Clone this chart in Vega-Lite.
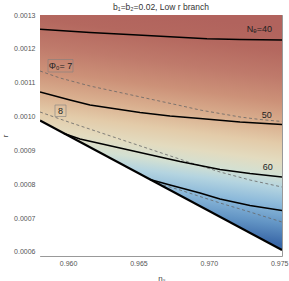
{
  "$schema": "https://vega.github.io/schema/vega-lite/v6.json",
  "width": 242,
  "height": 241,
  "autosize": {"type": "none"},
  "padding": {"left": 40, "top": 15, "right": 7, "bottom": 25},
  "title": {"text": "b₁=b₂=0.02, Low r branch", "fontSize": 8.5, "font": "Liberation Sans", "fontWeight": "normal", "color": "#333333", "offset": 0, "anchor": "middle"},
  "config": {"view": {"stroke": null}, "font": "Liberation Sans"},
  "datasets": {
    "field": [{"ns0": 0.958, "ns1": 0.9752, "r0": 0.000588, "r1": 0.0013}],
    "boundary": [
      {"ns": 0.958, "r": 0.0009883},
      {"ns": 0.9752, "r": 0.0006055}
    ],
    "contours": [
      {"series": "N40", "kind": "solid", "ns": 0.958, "r": 0.0012578},
      {"series": "N40", "kind": "solid", "ns": 0.961553, "r": 0.0012483},
      {"series": "N40", "kind": "solid", "ns": 0.96461, "r": 0.0012418},
      {"series": "N40", "kind": "solid", "ns": 0.967239, "r": 0.0012359},
      {"series": "N40", "kind": "solid", "ns": 0.969868, "r": 0.00123},
      {"series": "N40", "kind": "solid", "ns": 0.972214, "r": 0.0012276},
      {"series": "N40", "kind": "solid", "ns": 0.9752, "r": 0.0012261},
      {"series": "N50", "kind": "solid", "ns": 0.958, "r": 0.0010725},
      {"series": "N50", "kind": "solid", "ns": 0.960132, "r": 0.0010489},
      {"series": "N50", "kind": "solid", "ns": 0.961553, "r": 0.0010341},
      {"series": "N50", "kind": "solid", "ns": 0.963686, "r": 0.0010208},
      {"series": "N50", "kind": "solid", "ns": 0.965107, "r": 0.0010119},
      {"series": "N50", "kind": "solid", "ns": 0.967239, "r": 0.0010016},
      {"series": "N50", "kind": "solid", "ns": 0.969371, "r": 0.0009942},
      {"series": "N50", "kind": "solid", "ns": 0.972214, "r": 0.0009839},
      {"series": "N50", "kind": "solid", "ns": 0.9752, "r": 0.0009765},
      {"series": "N60", "kind": "solid", "ns": 0.9597, "r": 0.00095},
      {"series": "N60", "kind": "solid", "ns": 0.960843, "r": 0.0009337},
      {"series": "N60", "kind": "solid", "ns": 0.962264, "r": 0.0009204},
      {"series": "N60", "kind": "solid", "ns": 0.963686, "r": 0.0009071},
      {"series": "N60", "kind": "solid", "ns": 0.965107, "r": 0.0008938},
      {"series": "N60", "kind": "solid", "ns": 0.966528, "r": 0.0008805},
      {"series": "N60", "kind": "solid", "ns": 0.96795, "r": 0.0008672},
      {"series": "N60", "kind": "solid", "ns": 0.969371, "r": 0.0008554},
      {"series": "N60", "kind": "solid", "ns": 0.970793, "r": 0.0008435},
      {"series": "N60", "kind": "solid", "ns": 0.972925, "r": 0.0008317},
      {"series": "N60", "kind": "solid", "ns": 0.9752, "r": 0.0008214},
      {"series": "N70", "kind": "solid", "ns": 0.965818, "r": 0.000814},
      {"series": "N70", "kind": "solid", "ns": 0.967239, "r": 0.0007978},
      {"series": "N70", "kind": "solid", "ns": 0.969371, "r": 0.0007741},
      {"series": "N70", "kind": "solid", "ns": 0.970793, "r": 0.0007564},
      {"series": "N70", "kind": "solid", "ns": 0.972925, "r": 0.0007372},
      {"series": "N70", "kind": "solid", "ns": 0.9752, "r": 0.0007224},
      {"series": "P7", "kind": "dashed", "ns": 0.958, "r": 0.0011346},
      {"series": "P7", "kind": "dashed", "ns": 0.959421, "r": 0.0011139},
      {"series": "P7", "kind": "dashed", "ns": 0.961553, "r": 0.0010902},
      {"series": "P7", "kind": "dashed", "ns": 0.963686, "r": 0.001071},
      {"series": "P7", "kind": "dashed", "ns": 0.965818, "r": 0.0010518},
      {"series": "P7", "kind": "dashed", "ns": 0.96795, "r": 0.0010326},
      {"series": "P7", "kind": "dashed", "ns": 0.969371, "r": 0.0010193},
      {"series": "P7", "kind": "dashed", "ns": 0.970793, "r": 0.001009},
      {"series": "P7", "kind": "dashed", "ns": 0.972214, "r": 0.0009987},
      {"series": "P7", "kind": "dashed", "ns": 0.973635, "r": 0.0009913},
      {"series": "P7", "kind": "dashed", "ns": 0.9752, "r": 0.0009854},
      {"series": "P8", "kind": "dashed", "ns": 0.958, "r": 0.0010134},
      {"series": "P8", "kind": "dashed", "ns": 0.960132, "r": 0.0009824},
      {"series": "P8", "kind": "dashed", "ns": 0.962264, "r": 0.0009529},
      {"series": "P8", "kind": "dashed", "ns": 0.964396, "r": 0.0009233},
      {"series": "P8", "kind": "dashed", "ns": 0.966528, "r": 0.0008938},
      {"series": "P8", "kind": "dashed", "ns": 0.96866, "r": 0.0008642},
      {"series": "P8", "kind": "dashed", "ns": 0.970793, "r": 0.0008362},
      {"series": "P8", "kind": "dashed", "ns": 0.972925, "r": 0.0008125},
      {"series": "P8", "kind": "dashed", "ns": 0.9752, "r": 0.0007918},
      {"series": "P9", "kind": "dashed", "ns": 0.966386, "r": 0.0008022},
      {"series": "P9", "kind": "dashed", "ns": 0.96795, "r": 0.000783},
      {"series": "P9", "kind": "dashed", "ns": 0.969371, "r": 0.0007638},
      {"series": "P9", "kind": "dashed", "ns": 0.970793, "r": 0.0007446},
      {"series": "P9", "kind": "dashed", "ns": 0.972925, "r": 0.000718},
      {"series": "P9", "kind": "dashed", "ns": 0.9752, "r": 0.0006884}
    ],
    "nlabels": [
      {"label": "Nₑ=40", "ns": 0.974488, "r": 0.0012586},
      {"label": "50", "ns": 0.974467, "r": 0.001006},
      {"label": "60", "ns": 0.974538, "r": 0.0008524}
    ],
    "plabels": [
      {"label": "Φ₀= 7", "ns": 0.959457, "r": 0.0011493, "ns0": 0.958569, "ns1": 0.960345, "r0": 0.0011316, "r1": 0.0011685},
      {"label": "8", "ns": 0.959457, "r": 0.0010173, "ns0": 0.959066, "ns1": 0.959848, "r0": 0.0010001, "r1": 0.0010341}
    ]
  },
  "layer": [
    {
      "data": {"name": "field"},
      "mark": {"type": "rect", "fill": {"gradient": "linear", "x1": 0.565, "y1": 0, "x2": 0.435, "y2": 1, "stops": [
        {"offset": 0, "color": "#b1635d"},
        {"offset": 0.09, "color": "#b4685f"},
        {"offset": 0.2, "color": "#bf7a6b"},
        {"offset": 0.3, "color": "#cc9178"},
        {"offset": 0.39, "color": "#d9ae8e"},
        {"offset": 0.47, "color": "#e3cba9"},
        {"offset": 0.54, "color": "#e3dbbf"},
        {"offset": 0.6, "color": "#d3e0d2"},
        {"offset": 0.65, "color": "#b4d4e0"},
        {"offset": 0.72, "color": "#8cb9da"},
        {"offset": 0.8, "color": "#6294c4"},
        {"offset": 0.88, "color": "#3a68a8"},
        {"offset": 1, "color": "#2a5595"}
      ]}},
      "encoding": {
        "x": {"field": "ns0", "type": "quantitative", "scale": {"domain": [0.958, 0.9752], "nice": false, "zero": false},
          "axis": {"orient": "bottom", "title": "nₛ", "titleFont": "Liberation Sans", "titleFontSize": 8, "titleFontWeight": "normal", "titleColor": "#444444", "titlePadding": 6,
            "values": [0.958, 0.959, 0.96, 0.961, 0.962, 0.963, 0.964, 0.965, 0.966, 0.967, 0.968, 0.969, 0.97, 0.971, 0.972, 0.973, 0.974, 0.975],
            "labelExpr": "abs(datum.value*200 - round(datum.value*200)) < 0.001 ? format(datum.value, '.3f') : ''",
            "labelFontSize": 7, "labelColor": "#555555", "labelFont": "Liberation Sans", "labelOverlap": false, "labelFlush": false, "labelPadding": 7,
            "tickSize": {"condition": {"test": "abs(datum.value*200 - round(datum.value*200)) < 0.001", "value": -4}, "value": -2},
            "tickColor": "#999999", "domainColor": "#999999", "grid": false}},
        "x2": {"field": "ns1"},
        "y": {"field": "r0", "type": "quantitative", "scale": {"domain": [0.000588, 0.0013], "nice": false, "zero": false},
          "axis": {"orient": "left", "title": "r", "titleFont": "Liberation Sans", "titleFontSize": 8, "titleFontWeight": "normal", "titleColor": "#444444", "titlePadding": 4,
            "values": [0.0006, 0.00062, 0.00064, 0.00066, 0.00068, 0.0007, 0.00072, 0.00074, 0.00076, 0.00078, 0.0008, 0.00082, 0.00084, 0.00086, 0.00088, 0.0009, 0.00092, 0.00094, 0.00096, 0.00098, 0.001, 0.00102, 0.00104, 0.00106, 0.00108, 0.0011, 0.00112, 0.00114, 0.00116, 0.00118, 0.0012, 0.00122, 0.00124, 0.00126, 0.00128, 0.0013],
            "labelExpr": "abs(datum.value*10000 - round(datum.value*10000)) < 0.001 ? format(datum.value, '.4f') : ''",
            "labelFontSize": 7, "labelColor": "#555555", "labelFont": "Liberation Sans", "labelOverlap": false, "labelFlush": false, "labelPadding": 9,
            "tickSize": {"condition": {"test": "abs(datum.value*10000 - round(datum.value*10000)) < 0.001", "value": -4}, "value": -2},
            "tickColor": "#999999", "domainColor": "#999999", "grid": false}},
        "y2": {"field": "r1"}
      }
    },
    {
      "data": {"name": "boundary"},
      "mark": {"type": "area", "fill": "white", "clip": true},
      "encoding": {
        "x": {"field": "ns", "type": "quantitative", "scale": {"domain": [0.958, 0.9752], "nice": false, "zero": false},
          "axis": {"orient": "top", "title": null, "labels": false,
            "values": [0.958, 0.959, 0.96, 0.961, 0.962, 0.963, 0.964, 0.965, 0.966, 0.967, 0.968, 0.969, 0.97, 0.971, 0.972, 0.973, 0.974, 0.975],
            "tickSize": {"condition": {"test": "abs(datum.value*200 - round(datum.value*200)) < 0.001", "value": -4}, "value": -2},
            "tickColor": "#999999", "domainColor": "#999999", "grid": false}},
        "y": {"field": "r", "type": "quantitative", "scale": {"domain": [0.000588, 0.0013], "nice": false, "zero": false},
          "axis": {"orient": "right", "title": null, "labels": false,
            "values": [0.0006, 0.00062, 0.00064, 0.00066, 0.00068, 0.0007, 0.00072, 0.00074, 0.00076, 0.00078, 0.0008, 0.00082, 0.00084, 0.00086, 0.00088, 0.0009, 0.00092, 0.00094, 0.00096, 0.00098, 0.001, 0.00102, 0.00104, 0.00106, 0.00108, 0.0011, 0.00112, 0.00114, 0.00116, 0.00118, 0.0012, 0.00122, 0.00124, 0.00126, 0.00128, 0.0013],
            "tickSize": {"condition": {"test": "abs(datum.value*10000 - round(datum.value*10000)) < 0.001", "value": -4}, "value": -2},
            "tickColor": "#999999", "domainColor": "#999999", "grid": false}},
        "y2": {"datum": 0.000588}
      }
    },
    {
      "data": {"name": "contours"},
      "transform": [{"filter": "datum.kind === 'dashed'"}],
      "mark": {"type": "line", "color": "#666666", "strokeWidth": 0.8, "strokeDash": [3, 2.5], "clip": true},
      "encoding": {
        "x": {"field": "ns", "type": "quantitative", "axis": null},
        "y": {"field": "r", "type": "quantitative", "axis": null},
        "detail": {"field": "series"}
      }
    },
    {
      "data": {"name": "contours"},
      "transform": [{"filter": "datum.kind === 'solid'"}],
      "mark": {"type": "line", "color": "#000000", "strokeWidth": 1.6, "clip": true},
      "encoding": {
        "x": {"field": "ns", "type": "quantitative", "axis": null},
        "y": {"field": "r", "type": "quantitative", "axis": null},
        "detail": {"field": "series"}
      }
    },
    {
      "data": {"name": "boundary"},
      "mark": {"type": "line", "color": "#000000", "strokeWidth": 2.2, "clip": true},
      "encoding": {
        "x": {"field": "ns", "type": "quantitative", "axis": null},
        "y": {"field": "r", "type": "quantitative", "axis": null}
      }
    },
    {
      "data": {"name": "plabels"},
      "mark": {"type": "rect", "fill": null, "fillOpacity": 0, "stroke": "#808080", "strokeWidth": 0.6},
      "encoding": {
        "x": {"field": "ns0", "type": "quantitative", "axis": null},
        "x2": {"field": "ns1"},
        "y": {"field": "r0", "type": "quantitative", "axis": null},
        "y2": {"field": "r1"}
      }
    },
    {
      "data": {"name": "plabels"},
      "mark": {"type": "text", "align": "center", "baseline": "middle", "fontSize": 9, "font": "Liberation Sans", "color": "#222222"},
      "encoding": {
        "x": {"field": "ns", "type": "quantitative", "axis": null},
        "y": {"field": "r", "type": "quantitative", "axis": null},
        "text": {"field": "label"}
      }
    },
    {
      "data": {"name": "nlabels"},
      "mark": {"type": "text", "align": "right", "baseline": "middle", "fontSize": 9, "font": "Liberation Sans", "color": "#222222"},
      "encoding": {
        "x": {"field": "ns", "type": "quantitative", "axis": null},
        "y": {"field": "r", "type": "quantitative", "axis": null},
        "text": {"field": "label"}
      }
    }
  ],
  "resolve": {"axis": {"x": "independent", "y": "independent"}}
}
